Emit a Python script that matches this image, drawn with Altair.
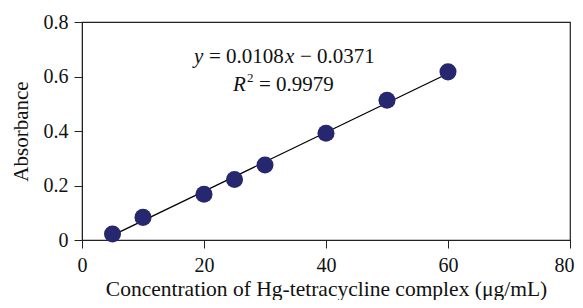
import altair as alt
import pandas as pd

# Data
conc = [5, 10, 20, 25, 30, 40, 50, 60]
absorbance = [0.022, 0.083, 0.168, 0.222, 0.275, 0.392, 0.513, 0.617]
slope = 0.0108
intercept = -0.0371
fit_x = [5, 60]
fit_y = [slope * v + intercept for v in fit_x]

x_ticks = [0, 20, 40, 60, 80]
y_ticks = [0, 0.2, 0.4, 0.6, 0.8]

pts = pd.DataFrame({"x": conc, "y": absorbance})
fit = pd.DataFrame({"x": fit_x, "y": fit_y})

FONT = "Liberation Serif"
xs = alt.Scale(domain=[0, 80], nice=False, zero=False)
ys = alt.Scale(domain=[0, 0.8], nice=False, zero=False)

x_axis = alt.Axis(values=x_ticks, format="d", title="Concentration of Hg-tetracycline complex (\u03bcg/mL)",
                  grid=False, tickSize=8, labelPadding=7,
                  titleY=55, titleBaseline="alphabetic",
                  labelFontSize=20, titleFontSize=21.5, labelFont=FONT, titleFont=FONT,
                  titleFontWeight="normal", labelColor="#111", titleColor="#111",
                  domainColor="#222", tickColor="#222", labelFlush=False,
                  labelAlign={"condition": {"test": "datum.value === 80", "value": "right"}, "value": "center"},
                  labelOffset={"condition": {"test": "datum.value === 80", "value": 4}, "value": 0})
y_axis = alt.Axis(values=y_ticks, format="~g", title="Absorbance",
                  grid=False, tickSize=8, labelPadding=6, titlePadding=12,
                  labelFontSize=20, titleFontSize=21, labelFont=FONT, titleFont=FONT,
                  titleFontWeight="normal", labelColor="#111", titleColor="#111",
                  domainColor="#222", tickColor="#222", labelFlush=False)

line = alt.Chart(fit).mark_line(color="black", strokeWidth=1.3).encode(
    x=alt.X("x:Q", scale=xs, axis=x_axis),
    y=alt.Y("y:Q", scale=ys, axis=y_axis),
)
points = alt.Chart(pts).mark_circle(color="#27276f", opacity=1, size=290).encode(
    x=alt.X("x:Q", scale=xs),
    y=alt.Y("y:Q", scale=ys),
)

# Equation annotation anchored in data units
eq1 = pd.DataFrame({"x": [18.36], "y": [0.6495]})
eq2 = pd.DataFrame({"x": [24.75], "y": [0.547]})

def piece(df, text, dx, italic=False, size=21, dy=0):
    return alt.Chart(df).mark_text(
        text=text, align="left", baseline="alphabetic", dx=dx, dy=dy,
        font=FONT, fontSize=size, fontStyle="italic" if italic else "normal", color="#111"
    ).encode(x=alt.X("x:Q", scale=xs), y=alt.Y("y:Q", scale=ys))

texts = [
    piece(eq1, "y", 0, italic=True),
    piece(eq1, "= 0.0108", 15),
    piece(eq1, "x", 91, italic=True),
    piece(eq1, "\u2212 0.0371", 106),
    piece(eq2, "R", 0, italic=True),
    piece(eq2, "2", 14, size=13, dy=-9),
    piece(eq2, "= 0.9979", 26),
]

chart = alt.layer(line, points, *texts).properties(
    width=488, height=218,
    autosize=alt.AutoSizeParams(type="none"),
    padding={"left": 74, "top": 14, "right": 5, "bottom": 60},
).configure_view(stroke="#222", strokeWidth=1.2)

chart.save("out.html", embed_options={"renderer": "svg", "actions": False})
